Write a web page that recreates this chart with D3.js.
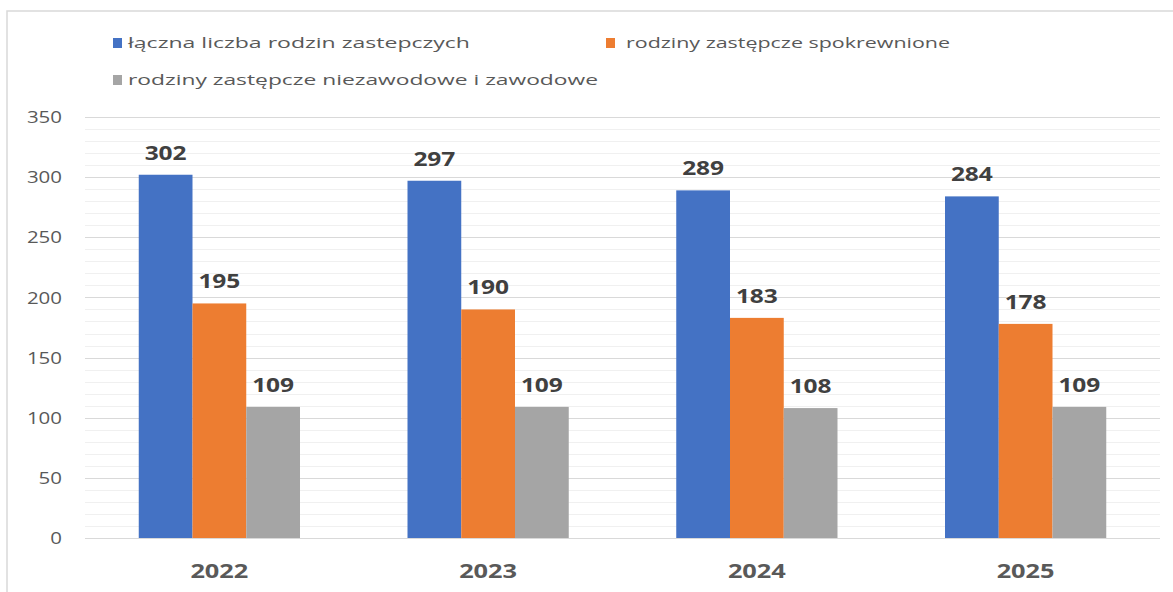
<!DOCTYPE html>
<html><head><meta charset="utf-8">
<script src="https://cdn.jsdelivr.net/npm/d3@7"></script>
<style>body{margin:0;background:#fff}svg{display:block}</style>
</head><body>
<svg id="c" width="1173" height="592"></svg>
<script>
const years = ["2022","2023","2024","2025"];
const seriesNames = ["łączna liczba rodzin zastepczych","rodziny zastępcze spokrewnione","rodziny zastępcze niezawodowe i zawodowe"];
const total = [302,297,289,284];
const related = [195,190,183,178];
const other = [109,109,108,109];
const yTicks = [0,50,100,150,200,250,300,350];
const colors = ["#4472c4","#ed7d31","#a5a5a5"];

const series = [total, related, other];
const svg = d3.select("#c");
// outer frame
svg.append("path").attr("d","M7,592 V11 H1173").attr("fill","none").attr("stroke","#d9d9d9").attr("stroke-width",1.5);

const x0 = d3.scaleBand().domain(years).range([85,1160]).paddingInner(0.4).paddingOuter(0.2);
const x1 = d3.scaleBand().domain([0,1,2]).range([0,x0.bandwidth()]);
const y = d3.scaleLinear().domain([0,350]).range([538,117]);

// minor grid
svg.append("g").selectAll("line").data(d3.range(0,351,10).filter(v=>v%50!==0)).join("line")
  .attr("x1",85).attr("x2",1160).attr("y1",d=>Math.round(y(d))+0.5).attr("y2",d=>Math.round(y(d))+0.5)
  .attr("stroke","#f0f0f0").attr("stroke-width",1);
// major grid
svg.append("g").selectAll("line").data(yTicks).join("line")
  .attr("x1",85).attr("x2",1160).attr("y1",d=>Math.round(y(d))+0.5).attr("y2",d=>Math.round(y(d))+0.5)
  .attr("stroke","#d9d9d9").attr("stroke-width",1);

// y axis labels
const yAxis = d3.axisLeft(y).tickValues(yTicks).tickSize(0).tickPadding(0);
const gy = svg.append("g").attr("transform","translate(62,0)").call(yAxis);
gy.select(".domain").remove();
gy.selectAll("text").attr("font-family","Open Sans, sans-serif").attr("font-size",16).attr("fill","#595959").attr("dy","0.35em")
  .attr("textLength",d=>String(d).length*11.7).attr("lengthAdjust","spacingAndGlyphs");

// x axis labels
const xAxis = d3.axisBottom(x0).tickSize(0).tickPadding(0);
const gx = svg.append("g").attr("transform","translate(0,578)").call(xAxis);
gx.select(".domain").remove();
gx.selectAll("text").attr("font-family","Open Sans, sans-serif").attr("font-size",19).attr("font-weight","bold").attr("fill","#595959").attr("dy","0")
  .attr("textLength",58).attr("lengthAdjust","spacingAndGlyphs");

// bars
years.forEach((yr,i)=>{
  series.forEach((s,j)=>{
    const bx = x0(yr)+x1(j);
    svg.append("rect").attr("x",bx).attr("width",x1.bandwidth()).attr("y",y(s[i])).attr("height",y(0)-y(s[i])).attr("fill",colors[j]);
    svg.append("text").attr("x",bx+x1.bandwidth()/2).attr("y",y(s[i])-15)
      .attr("text-anchor","middle").attr("font-family","Open Sans, sans-serif").attr("font-size",19).attr("font-weight","bold").attr("fill","#404040")
      .attr("textLength",42).attr("lengthAdjust","spacingAndGlyphs")
      .text(s[i]);
  });
});

// legend
const leg = [{x:113,y:38,w:342},{x:606,y:38,w:324},{x:113,y:75,w:470}];
seriesNames.forEach((n,j)=>{
  const L = leg[j];
  svg.append("rect").attr("x",L.x).attr("y",L.y).attr("width",9).attr("height",10).attr("fill",colors[j]);
  svg.append("text").attr("x",L.x+(j===1?20:15)).attr("y",L.y+10).attr("font-family","Open Sans, sans-serif").attr("font-size",15)
    .attr("fill","#595959").attr("textLength",L.w).attr("lengthAdjust","spacingAndGlyphs").text(n);
});
</script>
</body></html>
